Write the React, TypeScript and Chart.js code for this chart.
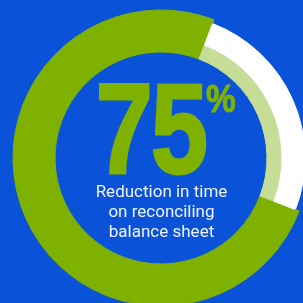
import React, { useEffect, useRef } from "react";
import { Chart, registerables } from "chart.js";

Chart.register(...registerables);

// ---- data ----
const categories = ["Reduction", "Remaining"];
const values = [75, 25];
const headline = "75";
const unitLabel = "%";
const captionLines = ["Reduction in time", "on reconciling", "balance sheet"];

// ---- styles ----
const BLUE = "#0A52D8";
const GREEN = "#7FB200";
const LIGHT_GREEN = "#C6DD98";
const WHITE = "#FFFFFF";
const CLEAR = "rgba(0,0,0,0)";

export default function App() {
  const canvasRef = useRef<HTMLCanvasElement | null>(null);

  useEffect(() => {
    const canvas = canvasRef.current;
    if (!canvas) return;
    const ring = (colors: string[], weight: number) => ({
      data: values,
      backgroundColor: colors,
      borderColor: colors,
      borderWidth: 1,
      weight,
    });
    const chart = new Chart(canvas, {
      type: "doughnut",
      data: {
        labels: categories,
        datasets: [
          ring([GREEN, CLEAR], 4),
          ring([GREEN, WHITE], 23),
          ring([GREEN, LIGHT_GREEN], 15),
        ],
      },
      options: {
        responsive: false,
        animation: false,
        devicePixelRatio: 1,
        rotation: 111,
        cutout: 106,
        layout: { padding: { left: 12.5, top: 9.5, right: 10.5, bottom: 13.5 } },
        plugins: {
          legend: { display: false },
          tooltip: { enabled: false },
        },
        events: [],
      },
    });
    return () => chart.destroy();
  }, []);

  return (
    <div
      style={{
        position: "fixed",
        left: 0,
        top: 0,
        width: 303,
        height: 303,
        overflow: "hidden",
        background: BLUE,
      }}
    >
      <canvas
        ref={canvasRef}
        width={320}
        height={320}
        style={{ position: "absolute", left: 0, top: 0, width: 320, height: 320 }}
      />
      <div
        style={{
          position: "absolute",
          left: 50.5,
          top: 64.5,
          width: 200,
          textAlign: "center",
          fontFamily: "'Liberation Sans', Arial, sans-serif",
          fontWeight: 700,
          fontSize: 128,
          lineHeight: "128px",
          color: GREEN,
          WebkitTextStroke: `3px ${GREEN}`,
          transform: "scaleX(0.8)",
          transformOrigin: "center",
          letterSpacing: -2,
          whiteSpace: "nowrap",
        }}
      >
        {headline}
      </div>
      <div
        style={{
          position: "absolute",
          left: 196,
          top: 80,
          width: 50,
          textAlign: "center",
          fontFamily: "'Liberation Sans', Arial, sans-serif",
          fontWeight: 700,
          fontSize: 38,
          lineHeight: "38px",
          color: GREEN,
          WebkitTextStroke: `1px ${GREEN}`,
          transform: "scaleX(0.88)",
          transformOrigin: "center",
          whiteSpace: "nowrap",
        }}
      >
        {unitLabel}
      </div>
      <div
        style={{
          position: "absolute",
          left: 61.5,
          top: 181,
          width: 200,
          textAlign: "center",
          fontFamily: "Roboto, 'Noto Sans', sans-serif",
          fontSize: 17,
          lineHeight: "20px",
          color: "#EEF3FF",
          whiteSpace: "nowrap",
        }}
      >
        {captionLines.map((l) => (
          <div key={l}>{l}</div>
        ))}
      </div>
    </div>
  );
}
